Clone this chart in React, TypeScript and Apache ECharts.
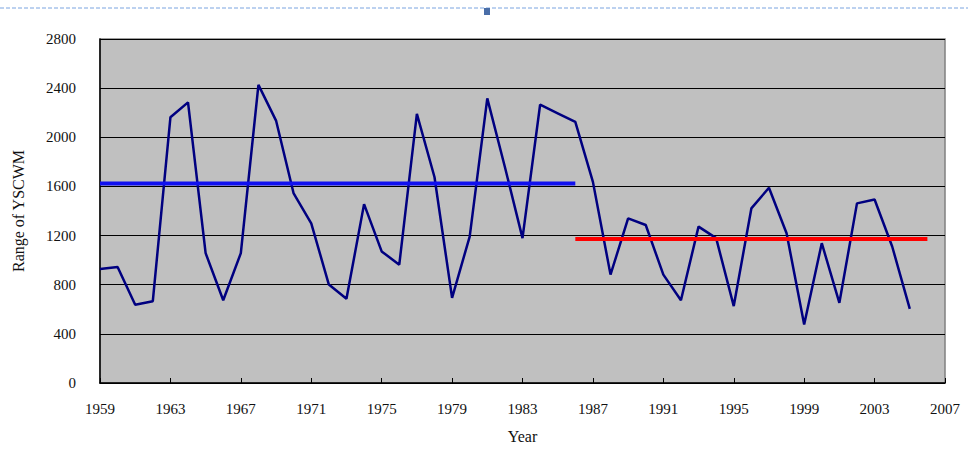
import React, { useEffect, useRef } from "react";
import * as echarts from "echarts";

const years: number[] = [
  1959, 1960, 1961, 1962, 1963, 1964, 1965, 1966, 1967, 1968, 1969, 1970,
  1971, 1972, 1973, 1974, 1975, 1976, 1977, 1978, 1979, 1980, 1981, 1982,
  1983, 1984, 1985, 1986, 1987, 1988, 1989, 1990, 1991, 1992, 1993, 1994,
  1995, 1996, 1997, 1998, 1999, 2000, 2001, 2002, 2003, 2004, 2005,
];
const rangeValues: number[] = [
  928, 944, 637, 666, 2163, 2284, 1057, 674, 1057, 2427, 2136, 1543,
  1300, 801, 685, 1456, 1071, 963, 2190, 1677, 693, 1192, 2317, 1758,
  1179, 2265, 2195, 2125, 1637, 882, 1340, 1286, 882, 674, 1273, 1179,
  626, 1421, 1589, 1219, 477, 1138, 653, 1462, 1494, 1111, 604,
];
const meanBefore: number[][] = [
  [1959, 1624],
  [1986, 1624],
];
const meanAfter: number[][] = [
  [1986, 1173],
  [2006, 1173],
];

const FONT = "'Liberation Serif', 'DejaVu Serif', serif";

export default function App() {
  const ref = useRef<HTMLDivElement>(null);
  useEffect(() => {
    if (!ref.current) return;
    const chart = echarts.init(ref.current, null, { renderer: "svg" });
    chart.setOption({
      animation: false,
      backgroundColor: "#ffffff",
      grid: {
        left: 100,
        right: 23,
        top: 39,
        bottom: 65,
        show: true,
        backgroundColor: "#c0c0c0",
        borderColor: "#808080",
        borderWidth: 1.5,
      },
      graphic: [
        {
          type: "line",
          shape: { x1: 0, y1: 8, x2: 968, y2: 8 },
          style: { stroke: "#7aa4e0", lineWidth: 1, lineDash: [4, 2] },
          silent: true,
        },
        {
          type: "rect",
          shape: { x: 484, y: 8, width: 6, height: 7 },
          style: { fill: "#4a6ea8" },
          silent: true,
        },
      ],
      xAxis: {
        type: "value",
        min: 1959,
        max: 2007,
        interval: 4,
        name: "Year",
        nameLocation: "middle",
        nameGap: 45,
        nameTextStyle: { fontFamily: FONT, fontSize: 16, color: "#111" },
        axisLine: { show: true, lineStyle: { color: "#000", width: 1.5 } },
        axisTick: { show: true, inside: true, length: 5, lineStyle: { color: "#000" } },
        axisLabel: {
          fontFamily: FONT,
          fontSize: 15,
          color: "#111",
          margin: 18,
          formatter: (v: number) => String(v),
        },
        splitLine: { show: false },
      },
      yAxis: {
        type: "value",
        min: 0,
        max: 2800,
        interval: 400,
        name: "Range of YSCWM",
        nameLocation: "middle",
        nameGap: 74,
        nameRotate: 90,
        nameTextStyle: { fontFamily: FONT, fontSize: 16, color: "#111" },
        axisLine: { show: true, lineStyle: { color: "#000", width: 1.5 } },
        axisTick: { show: false },
        axisLabel: {
          fontFamily: FONT,
          fontSize: 15,
          color: "#111",
          margin: 24,
          formatter: (v: number) => String(v),
        },
        splitLine: { show: true, lineStyle: { color: "#000", width: 1.2 } },
      },
      series: [
        {
          type: "line",
          data: years.map((y, i) => [y, rangeValues[i]]),
          symbol: "none",
          lineStyle: { color: "#000080", width: 2.5 },
          z: 3,
        },
        {
          type: "line",
          data: meanBefore,
          symbol: "none",
          lineStyle: { color: "#1010f0", width: 4 },
          z: 4,
        },
        {
          type: "line",
          data: meanAfter,
          symbol: "none",
          lineStyle: { color: "#ff0000", width: 4 },
          z: 4,
        },
      ],
    });
    return () => chart.dispose();
  }, []);
  return (
    <div
      ref={ref}
      style={{ position: "fixed", left: 0, top: 0, width: 968, height: 449 }}
    />
  );
}
